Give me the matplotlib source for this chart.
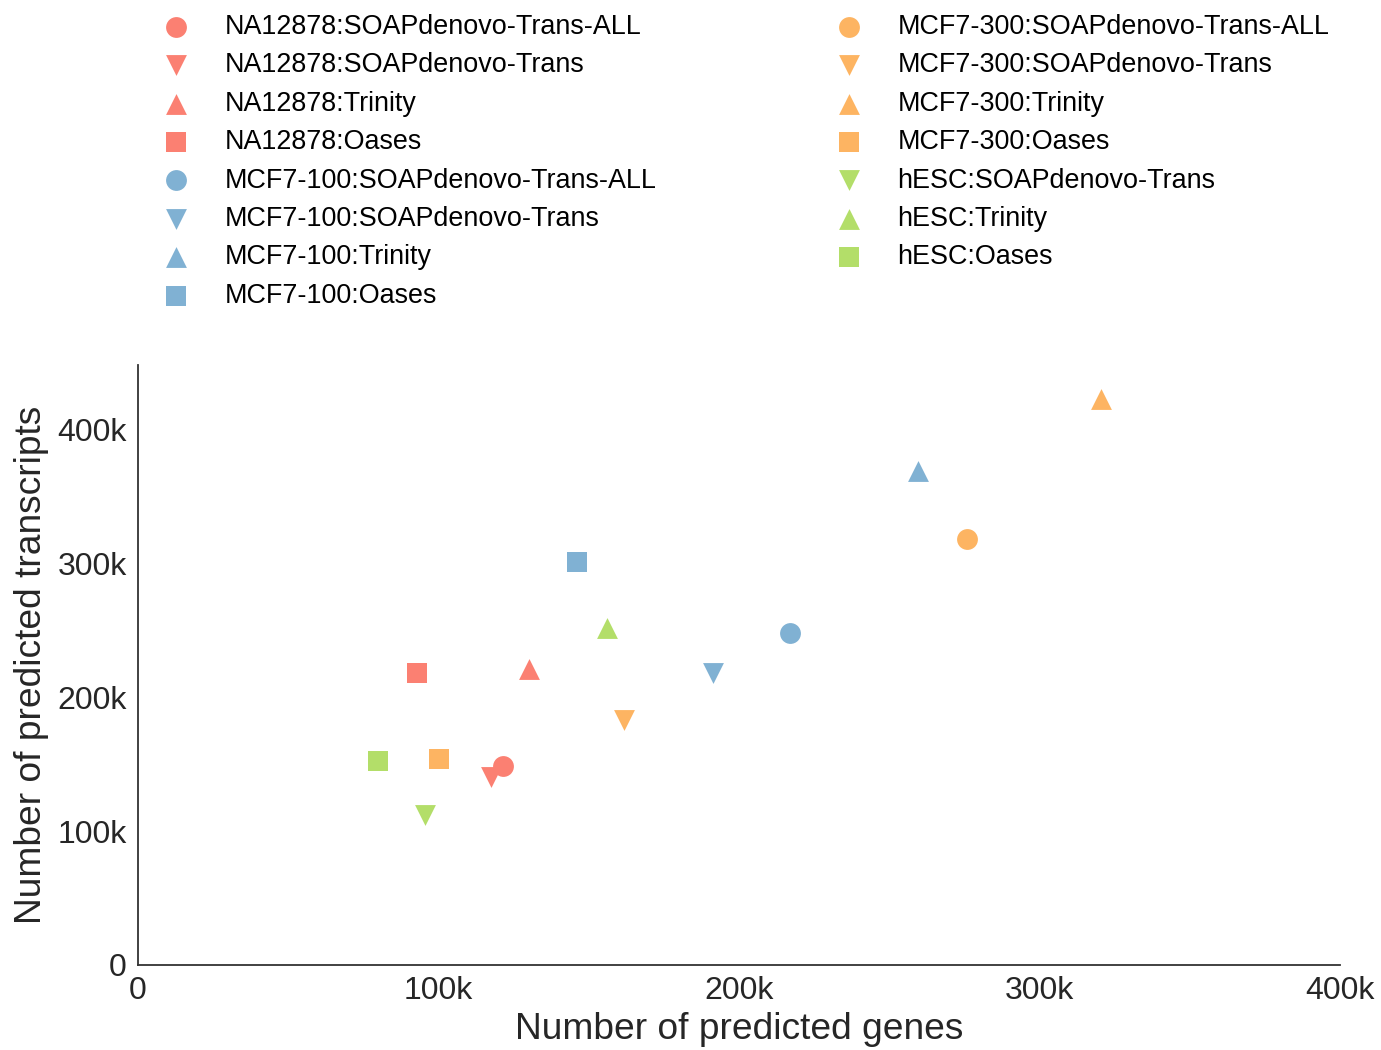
import numpy as np
import matplotlib.pyplot as plt
from matplotlib.ticker import FixedLocator, FixedFormatter

plt.rcParams['font.family'] = ['Liberation Sans', 'DejaVu Sans']

# assemblies: label is "sample:tool"
labels = [
    "NA12878:SOAPdenovo-Trans-ALL", "NA12878:SOAPdenovo-Trans", "NA12878:Trinity", "NA12878:Oases",
    "MCF7-100:SOAPdenovo-Trans-ALL", "MCF7-100:SOAPdenovo-Trans", "MCF7-100:Trinity", "MCF7-100:Oases",
    "MCF7-300:SOAPdenovo-Trans-ALL", "MCF7-300:SOAPdenovo-Trans", "MCF7-300:Trinity", "MCF7-300:Oases",
    "hESC:SOAPdenovo-Trans", "hESC:Trinity", "hESC:Oases",
]
genes = [121500, 117500, 130000, 93000,
         217000, 191500, 259500, 146000,
         276000, 161700, 320500, 100000,
         95500, 156000, 80000]
transcripts = [148600, 140400, 221500, 218000,
               247900, 218000, 369000, 300900,
               318000, 183000, 423000, 153800,
               112000, 252000, 152300]

sample_colors = {"NA12878": "#FB8072", "MCF7-100": "#80B1D3",
                 "MCF7-300": "#FDB462", "hESC": "#B3DE69"}
tool_markers = {"SOAPdenovo-Trans-ALL": "o", "SOAPdenovo-Trans": "v",
                "Trinity": "^", "Oases": "s"}

ticks = [0, 100000, 200000, 300000, 400000]
tick_labels = ["0", "100k", "200k", "300k", "400k"]

fig = plt.figure(figsize=(13.81, 10.5), dpi=100)
ax = fig.add_axes([0.0999, 0.081, 0.8705, 0.571])

for lab, g, t in zip(labels, genes, transcripts):
    sample, tool = lab.split(":")
    ax.scatter(g, t, s=225, c=sample_colors[sample], marker=tool_markers[tool],
               linewidths=0, label=lab)

ax.set_xlim(0, 400000)
ax.set_ylim(0, 448000)
ax.xaxis.set_major_locator(FixedLocator(ticks))
ax.xaxis.set_major_formatter(FixedFormatter(tick_labels))
ax.yaxis.set_major_locator(FixedLocator(ticks))
ax.yaxis.set_major_formatter(FixedFormatter(tick_labels))
ax.tick_params(length=0, labelsize=23, colors="#262626", pad=8)

for side in ["top", "right"]:
    ax.spines[side].set_visible(False)
for side in ["left", "bottom"]:
    ax.spines[side].set_color("#333333")
    ax.spines[side].set_linewidth(1.3)

ax.set_xlabel("Number of predicted genes", fontsize=26.7, color="#262626", labelpad=4)
ax.set_ylabel("Number of predicted transcripts", fontsize=26.7, color="#262626", labelpad=6)

fig.legend(loc="upper left", bbox_to_anchor=(0.1, 0.997), ncol=2, frameon=False,
           fontsize=19.4, handlelength=2.0, handletextpad=0.8, columnspacing=6.15,
           labelspacing=0.46, scatterpoints=1, borderaxespad=0)

fig.savefig("out.png", dpi=100)
